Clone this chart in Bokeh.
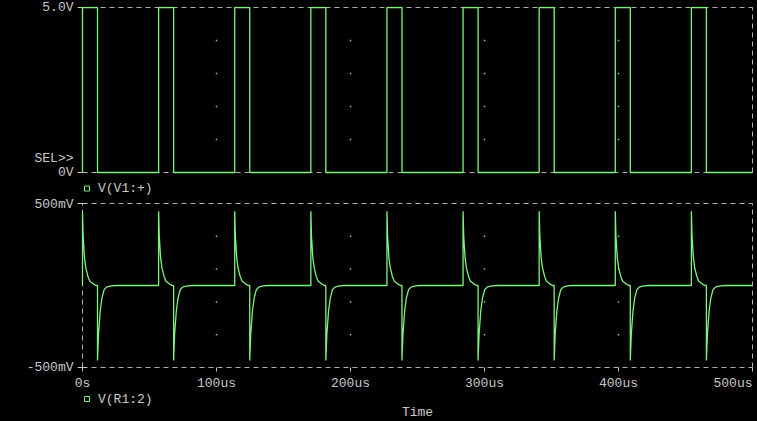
from bokeh.plotting import figure
from bokeh.layouts import column
from bokeh.models import FixedTicker
from bokeh.core.properties import value
from bokeh.embed import file_html
from bokeh.resources import INLINE

# ---------------- data (time in microseconds) ----------------
rise_times = [0.0, 56.8, 113.6, 170.4, 227.2, 284.0, 340.8, 397.6, 454.4]
fall_times = [11.2, 68.0, 124.8, 181.6, 238.4, 295.2, 352.0, 408.8, 465.6]
v_high = 5.0
v_low = 0.0
t_end = 500.0

# spike shapes of V(R1:2): offset after edge (us), volts
pos_offsets = [0.0, 0.5, 1.5, 2.5, 4.0, 5.5, 8.0, 10.0]
pos_values = [0.453, 0.30, 0.168, 0.107, 0.057, 0.026, 0.010, 0.0]
neg_offsets = [0.0, 0.75, 2.0, 3.3, 5.0, 7.0, 10.5, 14.0]
neg_values = [-0.457, -0.297, -0.157, -0.076, -0.024, -0.0085, -0.002, 0.0]

x_ticks = [0, 100, 200, 300, 400, 500]
x_tick_labels = ["0s", "100us", "200us", "300us", "400us", "500us"]
top_ticks = [0.0, 5.0]
top_tick_labels = ["0V", "5.0V"]
bot_ticks = [-0.5, 0.5]
bot_tick_labels = ["-500mV", "500mV"]
top_dot_levels = [1.0, 2.0, 3.0, 4.0]
bot_dot_levels = [-0.3, -0.1, 0.1, 0.3]

trace1_name = "V(V1:+)"
trace2_name = "V(R1:2)"
x_title = "Time"
sel_text = "SEL>>"
sel_level = 0.43   # volts, where the "SEL>>" marker sits

# ---------------- styles / layout constants ----------------
GREEN = "#7cf57c"
TXT = "#c8c8c8"
GRID = "#b0b0b0"
FONT = "Liberation Mono"
FS = "13px"
DASH = "5 4"

W = 757
X0_PX = 82         # canvas column of t = 0
LEFT_PAD = 8       # frame starts 8px left of t = 0 (room for the "0s" label)
RIGHT_PAD = 2      # frame extends 2px past 500us
PX_PER_US = 670 / 500.0
TOP_PX_PER_V = 165 / 5.0
BOT_PX_PER_V = 164 / 1.0

# square wave
sq_t, sq_v = [0.0], [v_low]
for r, f in zip(rise_times, fall_times):
    sq_t += [r, r, f, f]
    sq_v += [v_low, v_high, v_high, v_low]
sq_t.append(t_end)
sq_v.append(v_low)

# differentiated wave
edges = sorted([(r, "pos") for r in rise_times] + [(f, "neg") for f in fall_times])
sp_t, sp_v = [], []
for t0, kind in edges:
    offs, vals = (pos_offsets, pos_values) if kind == "pos" else (neg_offsets, neg_values)
    sp_t.append(t0)
    sp_v.append(0.0)
    for o, v in zip(offs, vals):
        sp_t.append(t0 + o)
        sp_v.append(v)
sp_t.append(t_end)
sp_v.append(0.0)

x_start = -LEFT_PAD / PX_PER_US
x_end = t_end + RIGHT_PAD / PX_PER_US
frame_w = 670 + LEFT_PAD + RIGHT_PAD
min_left = X0_PX - LEFT_PAD
min_right = W - min_left - frame_w


def px_us(px):
    return px / PX_PER_US


def base_style(p):
    p.background_fill_color = "black"
    p.border_fill_color = "black"
    p.outline_line_color = None
    p.grid.visible = False
    p.xaxis.visible = False
    ax = p.yaxis[0]
    ax.axis_line_color = None
    ax.major_tick_line_color = None
    ax.minor_tick_line_color = None
    ax.major_tick_out = 0
    ax.major_tick_in = 0
    ax.minor_tick_out = 0
    ax.major_label_standoff = 1
    ax.major_label_text_font = FONT
    ax.major_label_text_font_size = FS
    ax.major_label_text_color = TXT
    return ax


def border(p, y0, y1):
    # dashed plot border, drawn under the traces
    p.multi_line([[0, t_end], [0, t_end], [0, 0], [t_end, t_end]],
                 [[y1, y1], [y0, y0], [y0, y1], [y0, y1]],
                 line_color=GRID, line_dash=DASH, line_width=1)


def yticks(p, ticks, out_px, in_px):
    p.segment(x0=[-px_us(out_px)] * len(ticks), x1=[px_us(in_px)] * len(ticks),
              y0=ticks, y1=ticks, line_color=TXT, line_width=1)


def txt(p, x, y, s, align="left"):
    p.text(x=[x], y=[y], text=[s], text_align=align, text_baseline="middle",
           text_font=value(FONT), text_font_size=value(FS), text_color=TXT)


# ---------------- top plot ----------------
# canvas rows 0..196: 5V at row 7, 0V at row 172
top_h = 196
y_top_end = v_high + 1 / TOP_PX_PER_V
y_top_start = -(top_h - 172) / TOP_PX_PER_V
p1 = figure(width=W, height=top_h, frame_width=frame_w, frame_height=top_h - 6,
            x_range=(x_start, x_end), y_range=(y_top_start, y_top_end),
            min_border_left=min_left, min_border_right=min_right,
            min_border_top=6, min_border_bottom=0,
            output_backend="svg", toolbar_location=None)
ax1 = base_style(p1)
ax1.ticker = FixedTicker(ticks=top_ticks + [sel_level])
ax1.major_label_overrides = {**{t: l for t, l in zip(top_ticks, top_tick_labels)}, sel_level: sel_text}
border(p1, v_low, v_high)
yticks(p1, top_ticks, 5, 0)
p1.scatter([x for x in x_ticks[1:-1] for _ in top_dot_levels],
           [y for _ in x_ticks[1:-1] for y in top_dot_levels],
           marker="square", size=1.5, color=GRID, line_color=None)
p1.line(sq_t, sq_v, line_color=GREEN, line_width=1.3)
leg1_y = -(188 - 172) / TOP_PX_PER_V
p1.scatter([px_us(4.5)], [leg1_y], marker="square", size=5,
           fill_color=None, line_color=GREEN, line_width=1)
txt(p1, px_us(15.5), leg1_y, trace1_name)

# ---------------- bottom plot ----------------
# canvas rows 196..421: 500mV at row 203, -500mV at row 367
bot_h = 421 - top_h
y_bot_end = 0.5 + 1 / BOT_PX_PER_V
y_bot_start = -0.5 - (421 - 367) / BOT_PX_PER_V
p2 = figure(width=W, height=bot_h, frame_width=frame_w, frame_height=bot_h - 6,
            x_range=(x_start, x_end), y_range=(y_bot_start, y_bot_end),
            min_border_left=min_left, min_border_right=min_right,
            min_border_top=6, min_border_bottom=0,
            output_backend="svg", toolbar_location=None)
ax2 = base_style(p2)
ax2.ticker = FixedTicker(ticks=bot_ticks)
ax2.major_label_overrides = {t: l for t, l in zip(bot_ticks, bot_tick_labels)}
border(p2, -0.5, 0.5)
yticks(p2, bot_ticks, 5, 4)
p2.scatter([x for x in x_ticks[1:-1] for _ in bot_dot_levels],
           [y for _ in x_ticks[1:-1] for y in bot_dot_levels],
           marker="square", size=1.5, color=GRID, line_color=None)
p2.line(sp_t, sp_v, line_color=GREEN, line_width=1.3)
# time axis: ticks and labels under the frame
tick_len = 4 / BOT_PX_PER_V
p2.segment(x0=x_ticks, x1=x_ticks, y0=[-0.5] * len(x_ticks), y1=[-0.5 - tick_len] * len(x_ticks),
           line_color=TXT, line_width=1)
lab_y = -0.5 - 15.5 / BOT_PX_PER_V
for t, l in zip(x_ticks, x_tick_labels):
    txt(p2, t, lab_y, l, align="right" if t == x_ticks[-1] else "center")
leg2_y = -0.5 - 31.5 / BOT_PX_PER_V
p2.scatter([px_us(4.5)], [leg2_y], marker="square", size=5,
           fill_color=None, line_color=GREEN, line_width=1)
txt(p2, px_us(15.5), leg2_y, trace2_name)
txt(p2, t_end / 2, -0.5 - 45 / BOT_PX_PER_V, x_title, align="center")

p = column(p1, p2, spacing=0, styles={"background-color": "black"})
open("out.html", "w").write(file_html(p, INLINE))
